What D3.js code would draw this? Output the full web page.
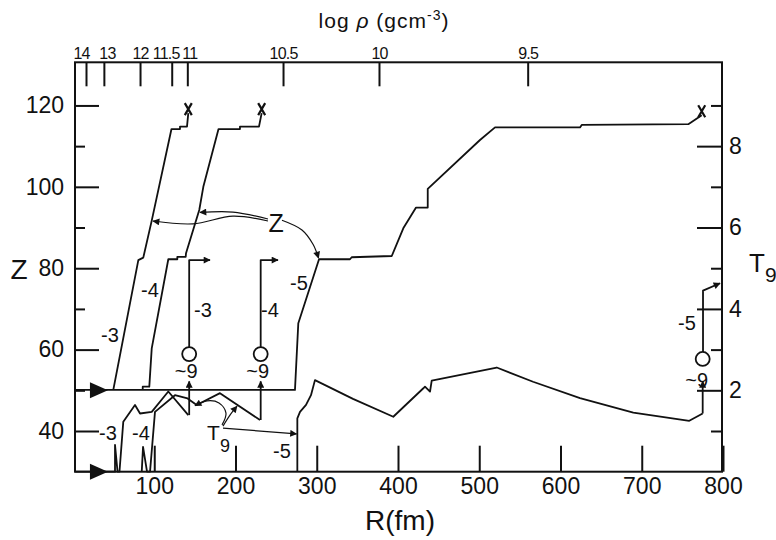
<!DOCTYPE html>
<html>
<head>
<meta charset="utf-8">
<script src="https://cdn.jsdelivr.net/npm/d3@7"></script>
<style>
body { margin: 0; background: #fff; }
text { font-family: "Liberation Sans", Arial, sans-serif; fill: #111; }
.tick line { stroke: #111; stroke-width: 2; }
</style>
</head>
<body>
<div id="chart"></div>
<script>
var width = 776, height = 540;

// Z(R) tracks, one per case (R in fm)
var zCase3 = [[49.6,50.1],[80.4,82.0],[86.5,82.6],[96.9,91.7],[121.2,114.2],[131.7,114.2],[131.7,114.8],[140.3,114.8],[141.9,118.1]];
var zCase4 = [[85.8,50.1],[85.8,50.9],[93.9,50.9],[96.9,60.3],[117.3,82.2],[128.4,82.2],[128.4,82.8],[138.7,82.8],[139.1,83.7],
              [155.4,94.3],[160.4,100.0],[179.1,114.2],[205.5,114.2],[205.5,114.8],[228.9,114.8],[232.2,118.1]];
var zCase5 = [[2.5,50.1],[273.2,50.1],[277.3,66.5],[302.8,82.2],[340.9,82.2],[343.0,82.7],[392.3,83.0],[406.5,89.8],[422.2,94.9],
              [436.6,94.9],[436.6,99.5],[500.9,111.5],[519.4,114.6],[624.0,114.6],[626.1,115.2],[757.3,115.4],[773.8,117.6]];

// T9(R) tracks
var tCase3 = [[2.5,0],[51.7,0],[51.7,0.66],[54.8,0],[57.2,0],[61.9,1.23],[76.3,1.64],[82.5,1.43],[96.9,1.47],[117.3,1.97],[141.9,1.39]];
var tCase4 = [[84.6,0],[86.2,0.61],[91.1,0],[94.8,0],[100.9,1.47],[125.5,1.88],[141.0,1.80],[152.2,1.64],[180.9,1.93],[230.2,1.27]];
var tCase5 = [[276.1,0],[276.1,1.31],[279.4,1.47],[286.8,1.64],[292.9,1.88],[297.8,2.25],[344.6,1.79],[394.2,1.35],[431.2,2.05],
              [433.2,2.09],[439.4,1.97],[441.5,2.24],[521.5,2.56],[566.2,2.21],[624.0,1.81],[689.6,1.45],[758.5,1.25],[775.0,1.43]];

// seeds (the ~9 points): R, T9 at start of arrow, T9 of circle
var seedR = [143, 231, 775];
var seedStartT = [1.39, 1.27, 1.43];
var seedCircleT = [2.89, 2.89, 2.77];

// axes
var rTicks = [100, 200, 300, 400, 500, 600, 700, 800];
var zTicks = [40, 60, 80, 100, 120];
var zMinor = [50, 70, 90, 110];
var t9Ticks = [2, 4, 6, 8];
var t9Minor = [1, 3, 5, 7, 9];
var rhoLabels = ["14", "13", "12", "11.5", "11", "10.5", "10", "9.5"];
var rhoR = [16, 38, 82.5, 121.5, 140.7, 258.5, 376.6, 559.6];

var x = d3.scaleLinear().domain([0, 800]).range([73, 723]);
var z = d3.scaleLinear().domain([30, 130.6]).range([471.7, 62.3]);
var t = d3.scaleLinear().domain([0, 10.06]).range([471.7, 62.3]);

var svg = d3.select("#chart").append("svg")
    .attr("width", width)
    .attr("height", height);

var defs = svg.append("defs");
defs.append("marker")
    .attr("id", "head")
    .attr("viewBox", "0 0 10 10")
    .attr("refX", 9).attr("refY", 5)
    .attr("markerWidth", 9).attr("markerHeight", 7)
    .attr("markerUnits", "userSpaceOnUse")
    .attr("orient", "auto")
  .append("path")
    .attr("d", "M0,0 L10,5 L0,10 Z")
    .attr("fill", "#111");

var pLeft = 75, pRight = 722, pTop = 62.3, pBottom = 471.7;

// frame
svg.append("rect")
    .attr("x", pLeft).attr("y", pTop)
    .attr("width", pRight - pLeft).attr("height", pBottom - pTop)
    .attr("fill", "none").attr("stroke", "#111").attr("stroke-width", 2);

function noDomain(g) { g.select(".domain").remove(); }

svg.append("g").attr("transform", "translate(" + pLeft + ",0)")
    .call(d3.axisLeft(z).tickValues(zTicks).tickSizeInner(-24).tickSizeOuter(0).tickPadding(11))
    .call(noDomain)
    .selectAll("text").style("font-size", "23px");
svg.append("g").attr("transform", "translate(" + pLeft + ",0)")
    .call(d3.axisLeft(z).tickValues(zMinor).tickSizeInner(-10).tickSizeOuter(0).tickFormat(""))
    .call(noDomain);

svg.append("g").attr("transform", "translate(" + pRight + ",0)")
    .call(d3.axisRight(t).tickValues(t9Ticks).tickSizeInner(-25).tickSizeOuter(0).tickPadding(7))
    .call(noDomain)
    .selectAll("text").style("font-size", "23px");
svg.append("g").attr("transform", "translate(" + pRight + ",0)")
    .call(d3.axisRight(t).tickValues(t9Minor).tickSizeInner(-11).tickSizeOuter(0).tickFormat(""))
    .call(noDomain);

svg.append("g").attr("transform", "translate(0," + pBottom + ")")
    .call(d3.axisBottom(x).tickValues(rTicks).tickSizeInner(-26).tickSizeOuter(0).tickPadding(6))
    .call(noDomain)
    .selectAll("text").style("font-size", "23px");

var topAxis = svg.append("g").attr("transform", "translate(0," + pTop + ")")
    .call(d3.axisTop(x).tickValues(rhoR).tickSizeInner(-24).tickSizeOuter(0).tickPadding(3)
        .tickFormat(function(d, i) { return rhoLabels[i]; }))
    .call(noDomain);
topAxis.selectAll("text").style("font-size", "16px").style("letter-spacing", "-0.8px")
    .attr("dx", function(d, i) { return i == 0 ? -5 : i == 3 ? -6 : i == 1 ? 3 : i == 4 ? 2 : 0; });

// axis titles
svg.append("text").attr("x", 384).attr("y", 28).attr("text-anchor", "middle")
    .style("font-size", "21px").style("letter-spacing", "1px")
    .html('log <tspan font-style="italic">ρ</tspan> (gcm<tspan dy="-8" font-size="14px">-3</tspan><tspan dy="8">)</tspan>');
svg.append("text").attr("x", 400).attr("y", 530).attr("text-anchor", "middle")
    .style("font-size", "28px").text("R(fm)");
svg.append("text").attr("x", 19).attr("y", 279).attr("text-anchor", "middle")
    .style("font-size", "28px").text("Z");
svg.append("text").attr("x", 749).attr("y", 272).style("font-size", "26px").text("T");
svg.append("text").attr("x", 765).attr("y", 282).style("font-size", "21px").text("9");

var zLine = d3.line().x(function(d) { return x(d[0]); }).y(function(d) { return z(d[1]); });
var tLine = d3.line().x(function(d) { return x(d[0]); }).y(function(d) { return t(d[1]); });

var g = svg.append("g").attr("fill", "none").attr("stroke", "#111").attr("stroke-width", 1.8)
    .attr("stroke-linejoin", "round");

[zCase3, zCase4, zCase5].forEach(function(c) {
  g.append("path").attr("d", zLine(c));
  var e = c[c.length - 1];
  g.append("path")
      .attr("d", "M-3.5,-6L3.5,6M3.5,-6L-3.5,6")
      .attr("stroke-width", 2.2)
      .attr("transform", "translate(" + x(e[0]) + "," + (z(e[1]) - 4) + ")");
});
[tCase3, tCase4, tCase5].forEach(function(c) {
  g.append("path").attr("d", tLine(c));
});

// seed markers
seedR.forEach(function(r, i) {
  var cx = x(r);
  g.append("line").attr("x1", cx).attr("x2", cx)
      .attr("y1", t(seedStartT[i])).attr("y2", t(2.22))
      .attr("marker-end", "url(#head)");
  g.append("circle").attr("cx", cx).attr("cy", t(seedCircleT[i])).attr("r", 7);
  svg.append("text").attr("x", cx - (i == 2 ? 6 : 3)).attr("y", t(seedCircleT[i]) + (i == 2 ? 28 : 24))
      .attr("text-anchor", "middle").style("font-size", "20px").text("~9");
});
// outgoing arrows from seeds
g.append("path").attr("d", zLine([[143, 58.9 + 1.7], [143, 82], [168.6, 82]])).attr("marker-end", "url(#head)");
g.append("path").attr("d", zLine([[231, 58.9 + 1.7], [231, 82], [252.3, 82]])).attr("marker-end", "url(#head)");
g.append("path").attr("d", zLine([[775.4, 57.7 + 1.7], [775.4, 74.5], [796.3, 76.3]])).attr("marker-end", "url(#head)");

// left start markers
[z(50), t(0)].forEach(function(yy) {
  svg.append("path").attr("d", "M" + (x(43) - 18) + "," + (yy - 8) + "L" + x(43) + "," + yy + "L" + (x(43) - 18) + "," + (yy + 8) + "Z")
      .attr("fill", "#111");
});

// annotation arrows
var curve = d3.line().curve(d3.curveCatmullRom)
    .x(function(d) { return x(d[0]); }).y(function(d) { return z(d[1]); });
var tcurve = d3.line().curve(d3.curveCatmullRom)
    .x(function(d) { return x(d[0]); }).y(function(d) { return t(d[1]); });
var ann = svg.append("g").attr("fill", "none").attr("stroke", "#111").attr("stroke-width", 1.2);
ann.append("path").attr("d", curve([[240, 91.6], [196.9, 92.8], [147.7, 90.9], [98.5, 91.6]])).attr("marker-end", "url(#head)");
ann.append("path").attr("d", curve([[240, 92.1], [196.9, 93.8], [156.3, 93.7]])).attr("marker-end", "url(#head)");
ann.append("path").attr("d", curve([[257.2, 91.8], [281.8, 89.4], [295.4, 85.9], [302.2, 82.5]])).attr("marker-end", "url(#head)");
ann.append("path").attr("d", tcurve([[183.4, 1.15], [188.3, 1.44], [179.7, 1.69], [164.9, 1.74], [150.2, 1.62]])).attr("marker-end", "url(#head)");
ann.append("path").attr("d", tcurve([[184.6, 1.12], [193.2, 1.39], [201.8, 1.61]])).attr("marker-end", "url(#head)");
ann.append("path").attr("d", tcurve([[184.6, 1.07], [275.1, 0.93]])).attr("marker-end", "url(#head)");

svg.append("text").attr("x", x(250)).attr("y", z(91) + 9).attr("text-anchor", "middle")
    .style("font-size", "25px").text("Z");
svg.append("text").attr("x", 207).attr("y", 440).style("font-size", "21px").text("T");
svg.append("text").attr("x", 220).attr("y", 452).style("font-size", "18px").text("9");

// case labels
var labels = [
  ["-3", 110, 342], ["-4", 150, 297], ["-5", 299, 290],
  ["-3", 203, 317], ["-4", 270, 317], ["-5", 687, 330],
  ["-3", 108, 440], ["-4", 141, 440], ["-5", 282, 458]
];
svg.selectAll(".lab").data(labels).enter().append("text")
    .attr("class", "lab")
    .attr("x", function(d) { return x((d[1] - 73) / 0.8125); })
    .attr("y", function(d) { return d[2]; })
    .attr("text-anchor", "middle")
    .style("font-size", "20px")
    .text(function(d) { return d[0]; });
</script>
</body>
</html>
